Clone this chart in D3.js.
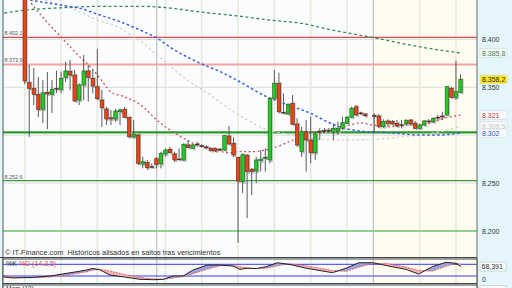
<!DOCTYPE html>
<html><head><meta charset="utf-8">
<script src="https://cdn.jsdelivr.net/npm/d3@7"></script>
<style>body{margin:0;background:#e4f6fc;} svg{display:block;font-family:"Liberation Sans",Arial,sans-serif;}</style>
</head><body><svg id="c" width="512" height="288"></svg>
<script>
// ---------- DATA ----------
const slots  = [0,1,2,3,4,5,6,7,8,9,10,11,12,13,14,15,16,17,18,19,20,21,22,23,24,25,26,27,28,29,30,31,32,33,34,35,36,37,38,39,40,41,42,43,44,45,46,47,48,49,50,51,52,53,54,55,56,57,58,59,60,61,62,63,64,65,66,67,68,69,70,71,72,73,74,75,77,78,79,80,81,82,83,84,85,86,87,88,89,90,91,92,93,94,95,96];
const opens  = [8451.5,8354.8,8348.9,8342.7,8327.0,8344.8,8342.7,8348.9,8347.9,8360.4,8366.3,8362.8,8336.7,8352.4,8367.0,8359.4,8350.6,8336.7,8327.3,8318.2,8316.9,8324.5,8327.0,8318.7,8298.1,8300.2,8269.9,8271.3,8267.1,8275.4,8270.2,8280.4,8285.3,8280.4,8275.1,8274.1,8289.8,8286.3,8290.8,8289.0,8287.7,8286.3,8285.9,8285.3,8284.5,8299.1,8291.5,8276.9,8251.4,8279.0,8264.4,8262.6,8273.4,8276.2,8274.1,8338.5,8354.2,8323.9,8322.1,8333.3,8311.7,8282.8,8303.6,8295.0,8281.7,8304.0,8304.7,8305.0,8303.0,8303.6,8307.2,8312.4,8318.7,8329.7,8323.2,8322.1,8320.6,8320.0,8308.9,8314.8,8314.1,8312.4,8310.9,8311.7,8315.8,8312.4,8307.2,8310.6,8314.8,8314.1,8318.7,8320.0,8321.1,8348.9,8339.5,8344.8];
const highs  = [8456.8,8373.3,8370.1,8360.7,8357.6,8365.9,8357.6,8367.3,8366.3,8376.7,8378.5,8368.0,8354.2,8383.7,8373.3,8368.0,8390.0,8347.2,8329.7,8326.3,8327.3,8328.0,8329.4,8319.3,8315.8,8301.2,8277.5,8274.1,8270.6,8277.5,8282.8,8286.3,8287.7,8282.8,8286.3,8291.5,8295.0,8290.8,8293.2,8290.5,8289.8,8287.3,8287.3,8286.9,8300.2,8309.6,8297.8,8277.5,8281.1,8280.4,8265.7,8277.5,8284.5,8286.3,8339.9,8368.0,8365.2,8343.7,8333.3,8341.9,8317.6,8308.9,8315.8,8319.3,8303.6,8307.2,8307.5,8307.5,8312.4,8314.1,8319.3,8320.0,8329.7,8331.5,8324.5,8323.2,8322.8,8322.1,8316.6,8316.6,8315.8,8315.8,8315.8,8316.9,8316.9,8314.8,8311.7,8315.8,8316.9,8318.7,8321.1,8324.5,8351.3,8350.6,8377.7,8363.5];
const lows   = [8353.4,8298.1,8331.5,8319.0,8312.7,8306.4,8323.2,8344.0,8343.7,8355.8,8347.2,8335.0,8331.5,8336.7,8335.0,8343.7,8336.7,8308.5,8310.6,8310.6,8313.8,8310.6,8317.9,8296.7,8296.7,8268.9,8265.4,8263.7,8265.4,8265.4,8265.4,8277.5,8281.1,8272.3,8274.1,8273.0,8286.3,8285.6,8288.0,8287.3,8285.3,8282.8,8282.4,8283.5,8283.8,8289.8,8277.5,8187.8,8239.6,8213.5,8237.6,8250.1,8261.9,8261.9,8270.6,8336.7,8322.8,8322.1,8321.1,8310.6,8288.0,8277.5,8261.9,8270.6,8274.1,8295.0,8302.3,8303.3,8295.0,8300.2,8305.4,8311.7,8317.6,8320.0,8321.1,8319.0,8302.3,8307.5,8307.2,8309.6,8310.6,8308.5,8307.2,8310.6,8310.6,8306.4,8306.1,8309.6,8312.4,8313.0,8315.8,8315.8,8320.3,8338.5,8336.7,8343.7];
const closes = [8356.6,8348.9,8342.7,8327.0,8344.3,8343.0,8347.9,8348.4,8359.4,8367.0,8362.8,8335.7,8352.4,8367.0,8360.4,8351.3,8338.1,8328.7,8316.9,8316.9,8325.2,8326.3,8318.7,8298.4,8300.9,8270.6,8272.3,8266.1,8266.8,8269.6,8280.7,8284.5,8281.7,8274.1,8274.5,8290.5,8287.3,8289.8,8290.2,8288.4,8287.0,8283.8,8283.5,8284.7,8299.5,8290.8,8279.3,8252.2,8279.6,8261.9,8261.9,8274.1,8275.1,8276.9,8338.5,8354.2,8324.5,8323.3,8332.2,8311.4,8289.8,8303.6,8295.0,8281.7,8301.2,8303.3,8304.0,8304.4,8307.2,8307.2,8313.0,8318.7,8328.0,8321.1,8322.5,8320.3,8320.0,8308.9,8314.1,8312.4,8311.7,8309.6,8310.3,8315.1,8311.7,8307.2,8310.6,8314.8,8314.2,8317.6,8318.1,8319.4,8350.6,8339.5,8345.4,8358.2];

// moving averages (read at selected slots)
const maGreenSlots = [-4.5,0,8,17,26,32,38,47,54,61,67,70,77,83,89,96];
const maGreenVals  = [8427.5,8430.5,8433,8434.5,8434.5,8432.7,8429,8424.4,8420.2,8416.8,8410.5,8407.7,8401.7,8395.9,8390.7,8385.8];
const maBlueSlots  = [1.2,7.8,12.2,16.6,21,25.4,29.8,32,37.9,43.7,47.4,52.5,59.1,62.8,66.6,69.4,73.9,82,86.4,91.5,94.2,96];
const maBlueVals   = [8441,8435.9,8432.4,8425.4,8418.5,8409.8,8399.4,8392.0,8376.7,8364.9,8355.8,8342.0,8329.7,8323.2,8314.1,8308.5,8304.4,8302.0,8300.2,8300.2,8301.2,8302.0];
const maGraySlots  = [4.5,10,16.1,20.5,23.4,26.1,29.1,32,36.4,40.2,46.8,52.5,60.6,67.9,76.7,82.7,91.5,96];
const maGrayVals   = [8441,8432.8,8420.2,8412.9,8404.6,8396.2,8383.7,8372.2,8355.5,8344.0,8322.1,8307.5,8299.1,8295.0,8295.5,8298.1,8303.6,8309.5];
const maRedSlots   = [1.4,5.1,8,11.3,15.5,17.2,19,22.1,25.6,29.1,32.7,34.9,37.9,42.4,44.6,47.4,50.3,52.9,54.7,59.1,62.8,66.6,70.1,73.9,76.7,79.4,85.5,89.3,92.6,96];
const maRedVals    = [8438,8417.1,8402.5,8385.8,8365.9,8355.5,8345.1,8339.9,8331.5,8315.8,8303.3,8297.1,8289.8,8284.5,8281.7,8282.8,8282.8,8284.5,8286.6,8295.0,8302.3,8305.4,8308.5,8312.7,8310.6,8308.9,8310.6,8312.4,8317.9,8321];

// horizontal levels
const levelVals   = [8402.1, 8373.9, 8303, 8252.6, 8200];
const levelColors = ["#d94a4a", "#f2a3a3", "#2a9a2a", "#3f9a3f", "#8fcf8f"];
const levelWidths = [1.3, 2, 2.2, 1.3, 2];
const levelLabels = ["8.402,1", "8.373,9", null, "8.252,6", null];

const yTicks = [8400, 8350, 8300, 8250, 8200];
const yTickLabels = ["8.400", "8.350", "", "8.250", "8.200"];
const weekLines = [0, 8, 16, 24, 31, 39, 47, 55, 63, 71, 87, 95];
const monthLines = [29.1, 76.8];

// right-side value boxes
const boxVals   = [8385.8, 8358.2, 8321, 8309.5, 8302];
const boxLabels = ["8.385,8", "8.358,2", "8.321", "8.309,5", "8.302"];
const boxText   = ["#4d7a5e", "#222222", "#cc3333", "#c4c4c4", "#3355cc"];
const boxFill   = ["#f4fbf4", "#ffe81a", "#f8fbfd", "#f8fbfd", "#f8fbfd"];

// stochastic
const stSlots = [-4.8,-2.6,1.8,5.6,9.3,11.5,13.7,15,16.6,18.8,22.5,25.4,28.3,30.5,32.7,34.9,37.1,40.2,43,45.9,47.4,49,51,53.2,55.7,58.2,62,67.8,70.8,73.6,76.7,80.2,84,86.8,89.8,92.8,95,96.1];
const stK = [16,10,13,20,34,42,51,59,51,25,13,3,1,3,20,20,51,76,76,71,54,60,58,68,88,80,60,37,60,88,88,71,54,30,68,90,85,68.4];
const stD = [20,15,11,15,24,33,42,50,55,45,25,12,5,3,10,17,32,55,72,75,68,62,58,60,72,82,72,48,44,65,85,82,66,48,45,70,85,80];

// ---------- DRAW ----------
const svg = d3.select("#c");
const L = 3, R = 477, T = -1, B = 257;
const x = d3.scaleLinear().domain([0, 96]).range([24.7, 460.5]);
const y = d3.scaleLinear().domain([8350, 8200]).range([87.3, 231]);

svg.append("rect").attr("width", 512).attr("height", 288).attr("fill", "#e4f6fc");
svg.append("defs").append("clipPath").attr("id", "mc")
  .append("rect").attr("x", L).attr("y", T).attr("width", R - L).attr("height", B - T);

const main = svg.append("g").attr("clip-path", "url(#mc)");
main.append("rect").attr("x", L).attr("y", T).attr("width", R - L).attr("height", B - T).attr("fill", "#fafcfe");
main.append("rect").attr("x", x(monthLines[1])).attr("y", T).attr("width", R - x(monthLines[1])).attr("height", B - T).attr("fill", "#fffdf1");

// grid
main.selectAll(".hg").data(yTicks).enter().append("line")
  .attr("x1", L).attr("x2", R).attr("y1", d => y(d)).attr("y2", d => y(d))
  .attr("stroke", "#dcdcdc").attr("stroke-width", 1);
main.selectAll(".wg").data(weekLines).enter().append("line")
  .attr("x1", d => x(d)).attr("x2", d => x(d)).attr("y1", T).attr("y2", B)
  .attr("stroke", "#e8e8dc").attr("stroke-width", 1.6);
main.selectAll(".mg").data(monthLines).enter().append("line")
  .attr("x1", d => x(d)).attr("x2", d => x(d)).attr("y1", T).attr("y2", B)
  .attr("stroke", "#b4b4b4").attr("stroke-width", 1);

// levels
levelVals.forEach((v, i) => {
  main.append("line").attr("x1", L).attr("x2", R).attr("y1", y(v)).attr("y2", y(v))
    .attr("stroke", levelColors[i]).attr("stroke-width", levelWidths[i]);
});

// moving averages
function ma(slotsA, vals, color, dash, w) {
  const line = d3.line().x(d => x(d[0])).y(d => y(d[1])).curve(d3.curveMonotoneX);
  main.append("path").datum(slotsA.map((s, i) => [s, vals[i]]))
    .attr("d", line).attr("fill", "none").attr("stroke", color)
    .attr("stroke-width", w).attr("stroke-dasharray", dash);
}
ma(maGraySlots, maGrayVals, "#d2d2d2", "2.5,2.5", 1.4);
ma(maGreenSlots, maGreenVals, "#3b8a5a", "3,2.5", 1.3);
ma(maBlueSlots, maBlueVals, "#3a5fd8", "2.5,2.5", 1.5);
ma(maRedSlots, maRedVals, "#cc5050", "2,2.5", 1.3);

// candles
const candles = slots.map((s, i) => ({s, o: opens[i], h: highs[i], l: lows[i], c: closes[i]}));
const bw = 3.4;
const cg = main.append("g");
cg.selectAll(".sh").data(candles).enter().append("rect")
  .attr("x", d => x(d.s) + 0.6).attr("width", 2.4)
  .attr("y", d => y(Math.max(d.o, d.c)) - 1)
  .attr("height", d => Math.max(2, Math.abs(y(d.o) - y(d.c)) + 3))
  .attr("fill", "#bdbdbd");
cg.selectAll(".wk").data(candles).enter().append("line")
  .attr("x1", d => x(d.s)).attr("x2", d => x(d.s))
  .attr("y1", d => y(d.h)).attr("y2", d => y(d.l))
  .attr("stroke", "#4a4a4a").attr("stroke-width", 0.9);
cg.selectAll(".bd").data(candles).enter().append("rect")
  .attr("x", d => x(d.s) - bw / 2).attr("width", bw)
  .attr("y", d => y(Math.max(d.o, d.c)))
  .attr("height", d => Math.max(0.8, Math.abs(y(d.o) - y(d.c))))
  .attr("fill", d => Math.abs(d.c - d.o) < 1 ? "#333" : (d.c > d.o ? "#22cc22" : "#ee4414"))
  .attr("stroke", d => d.c > d.o ? "#1d5a1d" : "#5a2a1a").attr("stroke-width", 0.6);

// left level labels (on top)
levelVals.forEach((v, i) => {
  if (levelLabels[i]) {
    main.append("text").attr("x", 4.5).attr("y", y(v) - 2).text(levelLabels[i])
      .attr("font-size", 5.4).attr("fill", "#555");
  }
});

// footer text
main.append("text").attr("x", 5).attr("y", 254.5).attr("font-size", 7.4).attr("fill", "#333")
  .style("white-space", "pre")
  .text("\u00a9 IT-Finance.com  Hist\u00f3ricos alisados en saltos tras vencimientos");

// panel border
svg.append("line").attr("x1", L).attr("x2", L).attr("y1", 0).attr("y2", 288).attr("stroke", "#555").attr("stroke-width", 1);
svg.append("line").attr("x1", R).attr("x2", R).attr("y1", 0).attr("y2", 288).attr("stroke", "#666").attr("stroke-width", 1);

// right axis labels
yTicks.forEach((v, i) => {
  if (!yTickLabels[i]) return;
  svg.append("text").attr("x", 482).attr("y", y(v) + 2.5).text(yTickLabels[i])
    .attr("font-size", 7).attr("fill", "#333");
});
boxVals.forEach((v, i) => {
  const yy = y(v);
  svg.append("rect").attr("x", 480).attr("y", yy - 4.3).attr("width", 27).attr("height", 8.6)
    .attr("fill", boxFill[i]).attr("stroke", "#cfd8dc").attr("stroke-width", 0.6);
  svg.append("text").attr("x", 482).attr("y", yy + 2.5).text(boxLabels[i])
    .attr("font-size", 7).attr("fill", boxText[i]);
});

// ---------- stochastic panel ----------
const sT = 259, sB = 283.5;
const ys = d3.scaleLinear().domain([0, 100]).range([279.9, 260.4]);
svg.append("line").attr("x1", 0).attr("x2", R).attr("y1", 257.5).attr("y2", 257.5).attr("stroke", "#444");
const sp = svg.append("g");
svg.select("defs").append("clipPath").attr("id", "sc")
  .append("rect").attr("x", L).attr("y", sT).attr("width", R - L).attr("height", sB - sT);
sp.attr("clip-path", "url(#sc)");
sp.append("rect").attr("x", L).attr("y", sT).attr("width", R - L).attr("height", sB - sT).attr("fill", "#fafcfe");
sp.append("rect").attr("x", x(monthLines[1])).attr("y", sT).attr("width", R - x(monthLines[1])).attr("height", sB - sT).attr("fill", "#fffdf1");
sp.selectAll(".wg").data(weekLines).enter().append("line")
  .attr("x1", d => x(d)).attr("x2", d => x(d)).attr("y1", sT).attr("y2", sB)
  .attr("stroke", "#e8e8dc").attr("stroke-width", 1.6);
sp.selectAll(".mg").data(monthLines).enter().append("line")
  .attr("x1", d => x(d)).attr("x2", d => x(d)).attr("y1", sT).attr("y2", sB)
  .attr("stroke", "#b4b4b4");
[80, 20].forEach(v => sp.append("line").attr("x1", L).attr("x2", R)
  .attr("y1", ys(v)).attr("y2", ys(v)).attr("stroke", "#3a3ae6").attr("stroke-width", 1));

const st = stSlots.map((s, i) => ({s, k: stK[i], d: stD[i]}));
const defs = svg.select("defs");
defs.append("clipPath").attr("id", "aboveD").append("path")
  .attr("d", d3.area().x(d => x(d.s)).y0(sT).y1(d => ys(d.d))(st));
defs.append("clipPath").attr("id", "belowD").append("path")
  .attr("d", d3.area().x(d => x(d.s)).y0(sB).y1(d => ys(d.d))(st));
const between = d3.area().x(d => x(d.s)).y0(d => ys(d.d)).y1(d => ys(d.k));
sp.append("g").attr("clip-path", "url(#aboveD)").append("path").attr("d", between(st)).attr("fill", "#9aa3dc");
sp.append("g").attr("clip-path", "url(#belowD)").append("path").attr("d", between(st)).attr("fill", "#f6b5b5");
sp.append("path").attr("d", d3.line().x(d => x(d.s)).y(d => ys(d.d))(st))
  .attr("fill", "none").attr("stroke", "#e26060").attr("stroke-width", 1).attr("stroke-dasharray", "2,1");
sp.append("path").attr("d", d3.line().x(d => x(d.s)).y(d => ys(d.k))(st))
  .attr("fill", "none").attr("stroke", "#222").attr("stroke-width", 1);
const lab = sp.append("text").attr("x", 6).attr("y", 265.5).attr("font-size", 7);
lab.append("tspan").attr("fill", "#333").text("%K ");
lab.append("tspan").attr("fill", "#e05050").text("%D (14,3,5)");
svg.append("rect").attr("x", L).attr("y", sT).attr("width", R - L).attr("height", sB - sT)
  .attr("fill", "none").attr("stroke", "#444").attr("stroke-width", 1);

svg.append("rect").attr("x", 480).attr("y", ys(68.391) - 4.5).attr("width", 26).attr("height", 9)
  .attr("fill", "#f8fbfd").attr("stroke", "#b8c4c8").attr("stroke-width", 0.6);
svg.append("text").attr("x", 481.5).attr("y", ys(68.391) + 2.5).attr("font-size", 7).attr("fill", "#333").text("68,391");
svg.append("text").attr("x", 482).attr("y", ys(0) + 2.5).attr("font-size", 7).attr("fill", "#333").text("0");

// third panel (cut at the bottom edge, as in the reference)
svg.append("rect").attr("x", L).attr("y", 285).attr("width", R - L).attr("height", 10).attr("fill", "#fafcfe").attr("stroke", "#444");
svg.append("text").attr("x", 6).attr("y", 290.5).attr("font-size", 6.5).attr("fill", "#333").text("Mom (10)");
svg.append("rect").attr("x", 480).attr("y", 285.5).attr("width", 26).attr("height", 9).attr("fill", "#f8fbfd").attr("stroke", "#b8c4c8").attr("stroke-width", 0.6);
</script></body></html>
